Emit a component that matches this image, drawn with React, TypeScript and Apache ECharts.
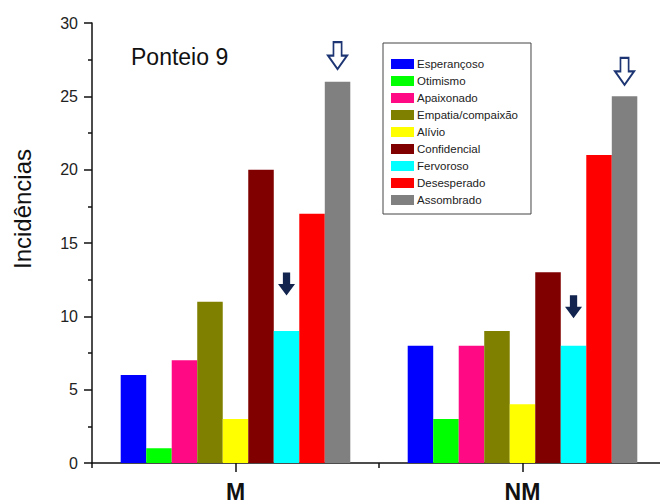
import React, { useEffect, useRef } from "react";
import * as echarts from "echarts";

const categories = ["M", "NM"];
const seriesNames = [
  "Esperançoso",
  "Otimismo",
  "Apaixonado",
  "Empatia/compaixão",
  "Alívio",
  "Confidencial",
  "Fervoroso",
  "Desesperado",
  "Assombrado",
];
const esperancoso = [6, 8];
const otimismo = [1, 3];
const apaixonado = [7, 8];
const empatia = [11, 9];
const alivio = [3, 4];
const confidencial = [20, 13];
const fervoroso = [9, 8];
const desesperado = [17, 21];
const assombrado = [26, 25];
const seriesValues = [esperancoso, otimismo, apaixonado, empatia, alivio, confidencial, fervoroso, desesperado, assombrado];
const colors = ["#0000ff", "#00ff00", "#ff0a84", "#808000", "#ffff00", "#800000", "#00ffff", "#ff0000", "#808080"];
const yTicks = [0, 30, 5];

const arrowPath = "path://M4,0 H10 V11 H14 L7,22 L0,11 H4 Z";

export default function App() {
  const ref = useRef<HTMLDivElement>(null);
  useEffect(() => {
    if (!ref.current) return;
    const chart = echarts.init(ref.current, null, { renderer: "svg" });
    const font = "Arial, 'Liberation Sans', sans-serif";
    const series: any[] = seriesNames.map((name, i) => {
      const s: any = {
        name,
        type: "bar",
        data: seriesValues[i],
        barGap: "0%",
        barCategoryGap: "20%",
        itemStyle: { color: colors[i] },
        xAxisIndex: 0,
      };
      if (name === "Fervoroso") {
        s.markPoint = {
          symbol: arrowPath,
          symbolSize: [17, 23],
          symbolKeepAspect: false,
          label: { show: false },
          itemStyle: { color: "#13244f" },
          data: [
            { coord: [0, fervoroso[0]], symbolOffset: [0, -47] },
            { coord: [1, fervoroso[1]], symbolOffset: [0, -39] },
          ],
        };
      }
      if (name === "Assombrado") {
        s.markPoint = {
          symbol: arrowPath,
          symbolSize: [19, 27],
          label: { show: false },
          itemStyle: { color: "#ffffff", borderColor: "#1d3673", borderWidth: 2 },
          data: [
            { coord: [0, assombrado[0]], symbolOffset: [0, -26] },
            { coord: [1, assombrado[1]], symbolOffset: [0, -25] },
          ],
        };
      }
      return s;
    });
    chart.setOption({
      animation: false,
      backgroundColor: "#ffffff",
      grid: { left: 92, right: 0, top: 23, bottom: 41, containLabel: false },
      legend: {
        orient: "vertical",
        left: 383,
        top: 43,
        data: seriesNames,
        icon: "rect",
        itemWidth: 23,
        itemHeight: 10,
        itemGap: 5,
        padding: [15, 13, 8, 8],
        borderColor: "#444",
        borderWidth: 1,
        textStyle: { fontFamily: font, fontSize: 11.5, color: "#222", padding: [0, 0, 0, -2] },
      },
      xAxis: [
        {
          type: "category",
          data: categories,
          axisLine: { show: true, lineStyle: { color: "#111", width: 1.5 } },
          axisTick: { show: true, alignWithLabel: true, length: 9, lineStyle: { color: "#111", width: 1.5 } },
          axisLabel: { fontFamily: font, fontSize: 23, fontWeight: "bold", color: "#111", margin: 17 },
        },
        {
          type: "category",
          data: categories,
          position: "bottom",
          axisLine: { show: false },
          axisTick: { show: true, alignWithLabel: false, length: 5, lineStyle: { color: "#111", width: 1.5 } },
          axisLabel: { show: false },
        },
      ],
      yAxis: {
        type: "value",
        min: yTicks[0],
        max: yTicks[1],
        interval: yTicks[2],
        splitLine: { show: false },
        axisLine: { show: true, lineStyle: { color: "#111", width: 1.5 } },
        axisTick: { show: true, length: 8, lineStyle: { color: "#111", width: 1.5 } },
        minorTick: { show: true, splitNumber: 2, length: 4, lineStyle: { color: "#111", width: 1.5 } },
        axisLabel: { fontFamily: font, fontSize: 16, color: "#222", margin: 14 },
      },
      graphic: [
        {
          type: "text",
          x: 131,
          y: 57,
          style: { text: "Ponteio 9", font: `23px ${font}`, fill: "#111", verticalAlign: "middle" },
        },
        {
          type: "text",
          x: 22,
          y: 209,
          rotation: Math.PI / 2,
          style: {
            text: "Incidências",
            font: `24px ${font}`,
            fill: "#111",
            align: "center",
            verticalAlign: "middle",
          },
        },
      ],
      series,
    });
    return () => chart.dispose();
  }, []);
  return (
    <div style={{ position: "absolute", left: 0, top: 0, width: 660, height: 504, overflow: "hidden", background: "#fff" }}>
      <div ref={ref} style={{ width: 666, height: 504 }} />
    </div>
  );
}
